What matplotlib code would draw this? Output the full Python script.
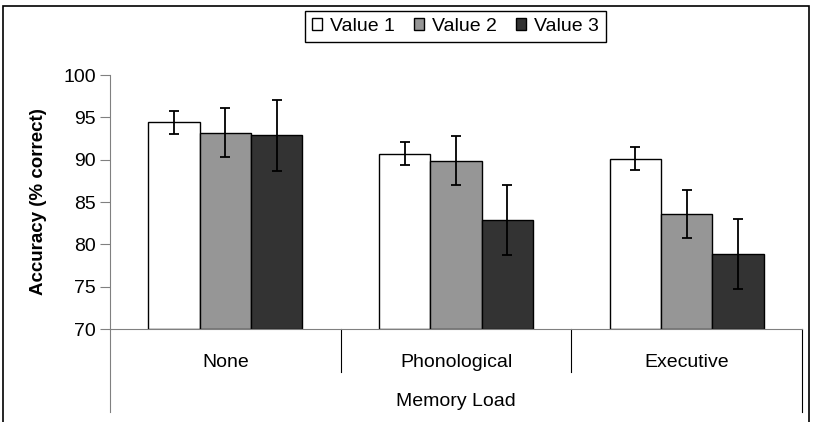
import numpy as np
import matplotlib
matplotlib.use("Agg")
import matplotlib.pyplot as plt
from matplotlib.patches import Rectangle
import matplotlib.transforms as mtransforms

plt.rcParams["font.family"] = ["Liberation Sans", "DejaVu Sans"]

# # Data

categories = ["None", "Phonological", "Executive"]
series_names = ["Value 1", "Value 2", "Value 3"]

value1 = [94.4, 90.7, 90.1]
value2 = [93.2, 89.9, 83.6]
value3 = [92.9, 82.85, 78.9]

err1 = [1.4, 1.35, 1.35]
err2 = [2.85, 2.9, 2.85]
err3 = [4.2, 4.15, 4.15]

colors = ["#ffffff", "#969696", "#333333"]

# # Figure

fig = plt.figure(figsize=(8.13, 4.22), dpi=100)
ax = fig.add_axes([110 / 813, (422 - 329) / 422, 692 / 813, 254 / 422])

x = np.arange(len(categories))
width = 1 / 4.5

for i, (vals, errs) in enumerate(zip([value1, value2, value3], [err1, err2, err3])):
    ax.bar(
        x + (i - 1) * width,
        np.array(vals) - 70,
        width,
        bottom=70,
        color=colors[i],
        edgecolor="black",
        linewidth=1,
        label=series_names[i],
        yerr=errs,
        error_kw=dict(ecolor="black", elinewidth=1.3, capsize=3.6, capthick=1.3),
        zorder=2,
    )

ax.set_xlim(-0.5, 2.5)
ax.set_ylim(70, 100)
ax.set_yticks([70, 75, 80, 85, 90, 95, 100])
ax.tick_params(axis="y", labelsize=14, length=7, color="#808080", direction="out", pad=3)
ax.set_xticks([])

ax.spines["top"].set_visible(False)
ax.spines["right"].set_visible(False)
ax.spines["left"].set_color("#808080")
ax.spines["bottom"].set_color("#808080")

ax.set_ylabel("Accuracy (% correct)", fontsize=13.5, fontweight="bold")
ax.yaxis.set_label_coords((47 - 110) / 692, 0.5)

# # Multi-level category axis

trans = mtransforms.blended_transform_factory(ax.transData, ax.transAxes)
for sep in [0.5, 1.5]:
    ax.plot([sep, sep], [0, -43 / 254], color="black", linewidth=0.8,
            transform=trans, clip_on=False)
for edge in [-0.5, 2.5]:
    ax.plot([edge, edge], [0, -83 / 254], color="#808080" if edge < 0 else "black",
            linewidth=0.8, transform=trans, clip_on=False)

for xi, cat in zip(x, categories):
    ax.text(xi, -(367 - 329) / 254, cat, transform=trans, ha="center", va="baseline", fontsize=14)

ax.text(1, -(406 - 329) / 254, "Memory Load", transform=trans, ha="center", va="baseline", fontsize=14)

# # Legend

leg = fig.legend(
    loc="center",
    bbox_to_anchor=(455.5 / 813, 1 - 26.5 / 422),
    ncol=3,
    fontsize=14,
    frameon=True,
    fancybox=False,
    framealpha=1,
    edgecolor="black",
    handlelength=0.52,
    handleheight=0.52,
    handletextpad=0.4,
    columnspacing=1.0,
    borderpad=0.35,
    borderaxespad=0,
)
leg.get_frame().set_linewidth(1)

# # Outer frame

fig.patches.append(Rectangle((3 / 813, -0.05), 806 / 813, 1.05 - 6 / 422,
                             transform=fig.transFigure, fill=False,
                             edgecolor="black", linewidth=1.2))

fig.savefig("out.png", dpi=100)
